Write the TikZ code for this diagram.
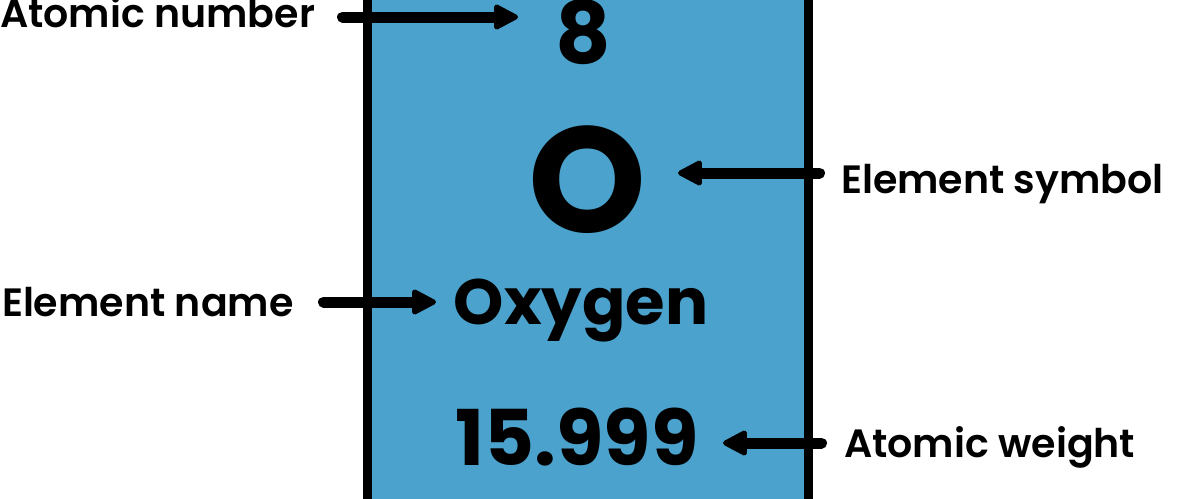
\documentclass[tikz,border=0pt]{standalone}
\usepackage{fontspec}
\setmainfont{Poppins}[BoldFont={Poppins SemiBold}]
\newfontfamily\heavyfont{Poppins}[UprightFont={* Bold}]
\usetikzlibrary{arrows.meta}
\definecolor{boxblue}{HTML}{4AA2CD}
\tikzset{
  lbl/.style={inner sep=0pt, outer sep=0pt, anchor=base west, font=\bfseries\fontsize{39.5}{39.5}\selectfont},
  big/.style={inner sep=0pt, outer sep=0pt, anchor=base, font=\heavyfont\fontsize{#1}{#1}\selectfont},
  pointer/.style={line width=11pt, line cap=round, -{Triangle[length=27pt,width=27pt,line width=5pt,round]}},
}
\begin{document}
\begin{tikzpicture}[x=1pt,y=-1pt]
\useasboundingbox (0,0) rectangle (1178,498);
\clip (0,0) rectangle (1178,498);
\draw[line width=9pt, fill=boxblue] (367,-20) rectangle (808,520);
% texts in the box
\node[big=86] (num) at (583,63) {8};
\node[big=150] (sym) at (587.5,232) {O};
\node[big=64] (name) at (581,324) {Oxygen};
\node[big=77] (weight) at (577,465) {15.999};
% labels
\node[lbl] (lnum) at (0,27) {Atomic number};
\node[lbl] (lsym) at (841,193) {Element symbol};
\node[lbl] (lname) at (2,316) {Element name};
\node[lbl] (lweight) at (844,457) {Atomic weight};
% arrow ends
\coordinate (a1) at (342.5,17);
\coordinate (b1) at (518,17);
\coordinate (a2) at (819.5,173);
\coordinate (b2) at (678,173);
\coordinate (a3) at (323.5,302);
\coordinate (b3) at (436,302);
\coordinate (a4) at (821.5,443);
\coordinate (b4) at (723,443);
\draw[pointer] (a1) -- (b1);
\draw[pointer] (a2) -- (b2);
\draw[pointer] (a3) -- (b3);
\draw[pointer] (a4) -- (b4);
\end{tikzpicture}
\end{document}
